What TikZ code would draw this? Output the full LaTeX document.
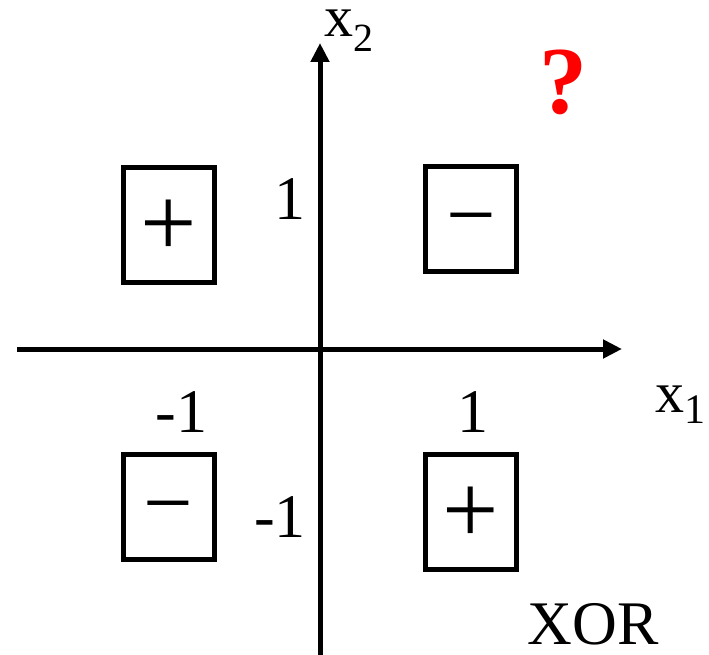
\documentclass[tikz,border=0pt]{standalone}
\usepackage{fontspec}
\setmainfont{Liberation Serif}
\usetikzlibrary{arrows.meta}
\begin{document}
\begin{tikzpicture}[x=1pt,y=-1pt,
  axis/.style={line width=5pt,-{Triangle[length=19pt,width=18pt]}},
  databox/.style={draw,line width=5.5pt,minimum width=91pt,inner sep=0pt},
  signtxt/.style={inner sep=0pt,font=\fontsize{100}{100}\selectfont},
  minustxt/.style={inner sep=0pt,font=\fontsize{88}{88}\selectfont},
  numtxt/.style={inner sep=0pt,font=\fontsize{62}{62}\selectfont},
  axlabel/.style={inner sep=0pt,anchor=base west,font=\fontsize{58}{58}\selectfont}]
\useasboundingbox (0,0) rectangle (709,655);
% axes
\coordinate (xs) at (17,349);
\coordinate (xe) at (622,349);
\coordinate (ys) at (320,655);
\coordinate (ye) at (320,43);
\draw[axis] (xs) -- (xe);
\draw[axis] (ys) -- (ye);
% boxes
\node[databox,minimum height=115pt] (tl) at (169,225) {};
\node[databox,minimum height=105pt] (tr) at (471,219) {};
\node[databox,minimum height=105pt] (bl) at (169,507) {};
\node[databox,minimum height=115pt] (br) at (471,512) {};
% signs
\node[signtxt] (tlsign) at (169,228) {+};
\node[minustxt] (trsign) at (471.5,229) {−};
\node[minustxt] (blsign) at (168.5,517) {−};
\node[signtxt] (brsign) at (471,515.5) {+};
% tick labels
\node[numtxt] (y1) at (290,199.5) {1};
\node[numtxt] (xm1) at (181.5,412) {-1};
\node[numtxt] (x1) at (473,412) {1};
\node[numtxt] (ym1) at (280,517.5) {-1};
% axis labels
\node[axlabel] (lx2) at (324,37) {x\raisebox{-15pt}{\fontsize{40}{40}\selectfont 2}};
\node[axlabel] (lx1) at (655,412) {x\raisebox{-11pt}{\fontsize{42}{42}\selectfont 1}};
% question mark
\node[inner sep=0pt,text=red,font=\fontsize{96}{96}\selectfont\bfseries] (q) at (563.5,82.5) {?};
% XOR
\node[numtxt] (xor) at (593,624) {XOR};
\end{tikzpicture}
\end{document}
